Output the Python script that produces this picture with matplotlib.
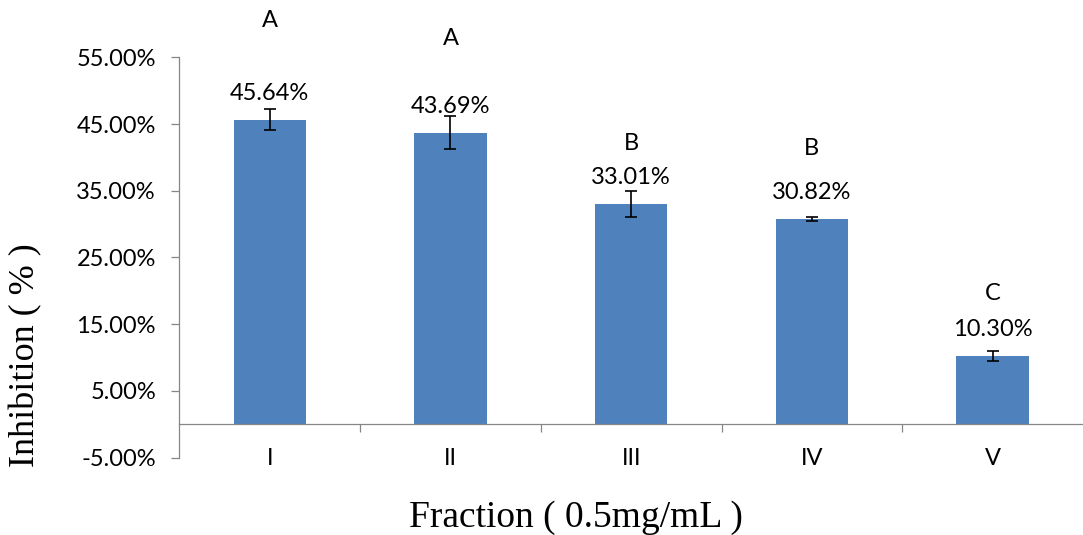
import matplotlib
matplotlib.use('Agg')
import matplotlib.pyplot as plt
import numpy as np

fractions = ['I', 'II', 'III', 'IV', 'V']
inhibition = [45.64, 43.69, 33.01, 30.82, 10.30]
errors = [1.6, 2.45, 1.95, 0.3, 0.75]
groups = ['A', 'A', 'B', 'B', 'C']
group_y = [60.5, 57.75, 42.1, 41.4, 19.6]
y_ticks = [-5, 5, 15, 25, 35, 45, 55]

bar_color = '#4F81BD'
gray = '#868686'
num_font = 'Lato'
num_size = 17

fig = plt.figure(figsize=(10.83, 5.35), dpi=100)
ax = fig.add_axes([0.1656, 0.1445, 0.8344, 0.7484])

x = np.arange(len(fractions))
ax.bar(x, inhibition, width=0.4, color=bar_color, zorder=2)
ax.errorbar(x, inhibition, yerr=errors, fmt='none', ecolor='black',
            elinewidth=1.2, capsize=4, capthick=1.2, zorder=3)

for xi, val in zip(x, inhibition):
    ax.annotate('%.2f%%' % val, (xi, val), xytext=(0, 19), textcoords='offset points',
                ha='center', va='center', fontsize=num_size, family=num_font)

for xi, g, gy in zip(x, groups, group_y):
    ax.text(xi, gy, g, ha='center', va='center', fontsize=num_size, family=num_font, clip_on=False)

ax.set_xlim(-0.5, 4.5)
ax.set_ylim(-5, 55)

ax.spines['top'].set_visible(False)
ax.spines['right'].set_visible(False)
ax.spines['left'].set_color(gray)
ax.spines['left'].set_linewidth(0.9)
ax.spines['bottom'].set_position(('data', 0))
ax.spines['bottom'].set_color(gray)
ax.spines['bottom'].set_linewidth(0.9)

ax.set_yticks(y_ticks)
ax.set_yticklabels(['%.2f%%' % t for t in y_ticks], family=num_font, fontsize=num_size)
ax.tick_params(axis='y', direction='out', length=5.8, width=0.9, color=gray, pad=11)

ax.set_xticks(x)
ax.set_xticklabels(fractions, family=num_font, fontsize=num_size)
ax.set_xticks(x[:-1] + 0.5, minor=True)
ax.tick_params(axis='x', which='major', length=0, pad=17)
ax.tick_params(axis='x', which='minor', direction='out', length=6, width=0.9, color=gray)

fig.text(0.532, 0.033, 'Fraction ( 0.5mg/mL )', ha='center', va='center',
         family='Liberation Serif', fontsize=27)
fig.text(0.024, 0.336, 'Inhibition ( % )', ha='center', va='center', rotation=90,
         family='Liberation Serif', fontsize=26)

fig.savefig('out.png', dpi=100)
